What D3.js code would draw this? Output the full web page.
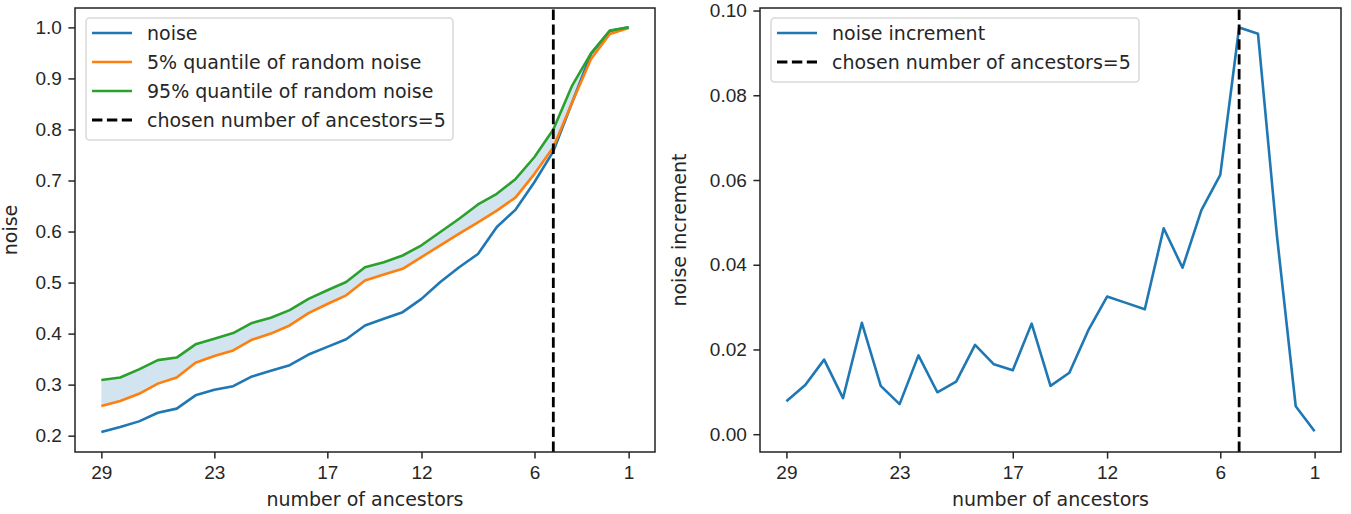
<!DOCTYPE html>
<html>
<head>
<meta charset="utf-8">
<script src="https://cdn.jsdelivr.net/npm/d3@7"></script>
<style>
  body { margin: 0; background: #fff; }
  svg { font-family: "DejaVu Sans", sans-serif; }
  .tick text { font-size: 19px; fill: #262626; }
  .tick line { stroke: #262626; stroke-width: 1.5; }
  .domain { display: none; }
</style>
</head>
<body>
<svg width="1351" height="514"></svg>
<script>
// number of ancestors, 29 down to 1
const ancestors = d3.range(29, 0, -1);
const xTicks = [29, 23, 17, 12, 6, 1];
const chosen = 5;

const noise = [0.207, 0.217, 0.228, 0.245, 0.253, 0.279, 0.290, 0.297, 0.316, 0.327,
  0.338, 0.359, 0.374, 0.389, 0.416, 0.429, 0.442, 0.468, 0.501, 0.530,
  0.556, 0.609, 0.643, 0.697, 0.757, 0.853, 0.948, 0.993, 1.000];
const q05 = [0.258, 0.268, 0.282, 0.302, 0.314, 0.343, 0.356, 0.367, 0.388, 0.400,
  0.416, 0.440, 0.458, 0.475, 0.504, 0.516, 0.527, 0.550, 0.573, 0.596,
  0.618, 0.641, 0.667, 0.713, 0.765, 0.853, 0.938, 0.987, 0.999];
const q95 = [0.309, 0.314, 0.330, 0.348, 0.353, 0.379, 0.390, 0.401, 0.421, 0.431,
  0.446, 0.468, 0.485, 0.501, 0.530, 0.540, 0.553, 0.573, 0.599, 0.625,
  0.653, 0.674, 0.703, 0.746, 0.800, 0.886, 0.949, 0.994, 1.000];
const noiseInc = [0.0078, 0.0116, 0.0176, 0.0085, 0.0263, 0.0114, 0.0071, 0.0186, 0.0099, 0.0124,
  0.0211, 0.0165, 0.0151, 0.0261, 0.0114, 0.0145, 0.0245, 0.0325, 0.0310, 0.0295,
  0.0486, 0.0393, 0.0529, 0.0612, 0.0960, 0.0945, 0.0470, 0.0066, 0.0007];

const leftTicks = [0.2, 0.3, 0.4, 0.5, 0.6, 0.7, 0.8, 0.9, 1.0];
const rightTicks = [0.00, 0.02, 0.04, 0.06, 0.08, 0.10];

const C0 = "#1f77b4", C1 = "#ff7f0e", C2 = "#2ca02c";
const plotTop = 8, plotBottom = 452;
const svg = d3.select("svg");

function makePanel(x0, x1, yDomain, yTicks, yFmt, yLabel) {
  const g = svg.append("g");
  const xScale = d3.scaleLinear().domain([30.4, -0.4]).range([x0, x1]);
  const yScale = d3.scaleLinear().domain(yDomain).range([plotBottom, plotTop]);
  g.append("g")
    .attr("transform", `translate(0,${plotBottom})`)
    .call(d3.axisBottom(xScale).tickValues(xTicks).tickFormat(d3.format("d"))
      .tickSize(6.6).tickPadding(6.6));
  g.append("g")
    .attr("transform", `translate(${x0},0)`)
    .call(d3.axisLeft(yScale).tickValues(yTicks).tickFormat(d3.format(yFmt))
      .tickSize(6.6).tickPadding(6.6));
  // axis labels
  g.append("text")
    .attr("x", (x0 + x1) / 2).attr("y", 506)
    .attr("text-anchor", "middle").attr("font-size", 19).attr("fill", "#262626")
    .text("number of ancestors");
  g.append("text")
    .attr("transform", `translate(${yLabel.x},${(plotTop + plotBottom) / 2}) rotate(-90)`)
    .attr("text-anchor", "middle").attr("font-size", 19).attr("fill", "#262626")
    .text(yLabel.text);
  return { g, xScale, yScale, x0, x1 };
}

function addLine(p, values, color) {
  const line = d3.line()
    .x((d, i) => p.xScale(ancestors[i]))
    .y(d => p.yScale(d));
  p.g.append("path")
    .datum(values)
    .attr("d", line)
    .attr("fill", "none")
    .attr("stroke", color)
    .attr("stroke-width", 2.6)
    .attr("stroke-linejoin", "round");
}

function addChosen(p) {
  const x = p.xScale(chosen);
  p.g.append("line")
    .attr("x1", x).attr("x2", x).attr("y1", plotBottom).attr("y2", plotTop)
    .attr("stroke", "#000").attr("stroke-width", 2.8)
    .attr("stroke-dasharray", "10.4,4.5");
}

function addFrame(p) {
  p.g.append("rect")
    .attr("x", p.x0).attr("y", plotTop)
    .attr("width", p.x1 - p.x0).attr("height", plotBottom - plotTop)
    .attr("fill", "none").attr("stroke", "#222").attr("stroke-width", 1.5);
}

function addLegend(p, items, width) {
  const lx = p.x0 + 11, ly = 18;
  const lg = p.g.append("g");
  lg.append("rect")
    .attr("x", lx).attr("y", ly)
    .attr("width", width).attr("height", items.length * 29 + 6)
    .attr("rx", 3.5)
    .attr("fill", "rgba(255,255,255,0.8)").attr("stroke", "#d9d9d9").attr("stroke-width", 1.5);
  items.forEach((it, i) => {
    const cy = ly + 15 + i * 29;
    lg.append("line")
      .attr("x1", lx + 6).attr("x2", lx + 46).attr("y1", cy).attr("y2", cy)
      .attr("stroke", it.color).attr("stroke-width", it.dash ? 2.8 : 2.6)
      .attr("stroke-dasharray", it.dash ? "10.4,4.5" : null);
    lg.append("text")
      .attr("x", lx + 61).attr("y", cy).attr("dy", "0.35em")
      .attr("font-size", 19).attr("fill", "#262626")
      .text(it.label);
  });
}

// left panel: noise and random-noise quantiles
const left = makePanel(75, 655, [0.168, 1.038], leftTicks, ".1f", { x: 17, text: "noise" });
const band = d3.area()
  .x((d, i) => left.xScale(ancestors[i]))
  .y0((d, i) => left.yScale(q05[i]))
  .y1(d => left.yScale(d));
left.g.append("path")
  .datum(q95)
  .attr("d", band)
  .attr("fill", C0).attr("fill-opacity", 0.2);
addLine(left, noise, C0);
addLine(left, q05, C1);
addLine(left, q95, C2);
addChosen(left);
addFrame(left);
addLegend(left, [
  { label: "noise", color: C0 },
  { label: "5% quantile of random noise", color: C1 },
  { label: "95% quantile of random noise", color: C2 },
  { label: "chosen number of ancestors=5", color: "#000", dash: true }
], 367);

// right panel: noise increment
const right = makePanel(760, 1341, [-0.0042, 0.1006], rightTicks, ".2f", { x: 686, text: "noise increment" });
addLine(right, noiseInc, C0);
addChosen(right);
addFrame(right);
addLegend(right, [
  { label: "noise increment", color: C0 },
  { label: "chosen number of ancestors=5", color: "#000", dash: true }
], 368);
</script>
</body>
</html>
